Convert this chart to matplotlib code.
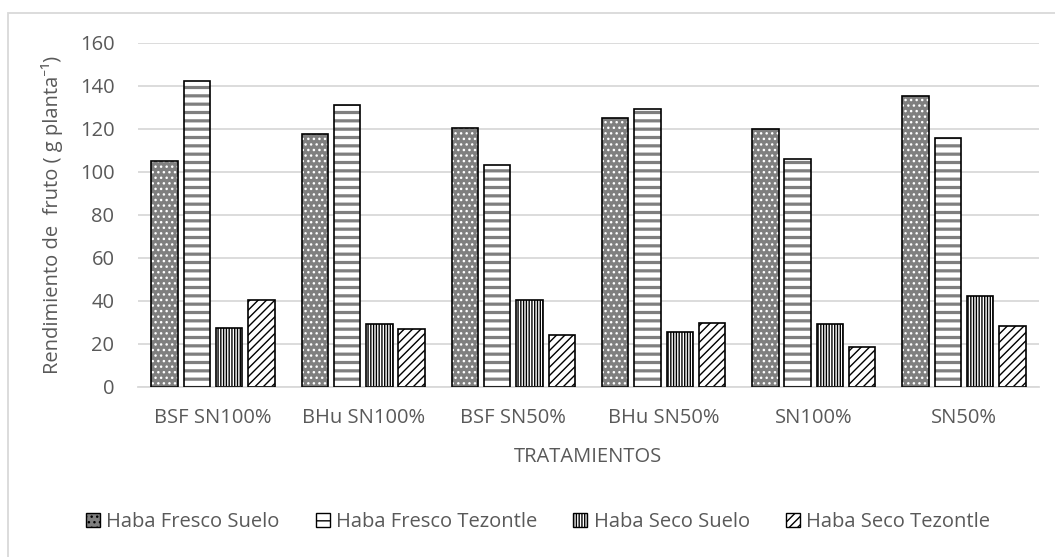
import matplotlib
matplotlib.use("Agg")
import matplotlib.pyplot as plt
from matplotlib.patches import Rectangle, Patch
import numpy as np

plt.rcParams['font.family'] = ['Open Sans', 'Noto Sans', 'DejaVu Sans']

categories = ["BSF SN100%", "BHu SN100%", "BSF SN50%", "BHu SN50%", "SN100%", "SN50%"]
series_names = ["Haba Fresco Suelo", "Haba Fresco Tezontle", "Haba Seco Suelo", "Haba Seco Tezontle"]
fresco_suelo = [104.8, 117.5, 120.5, 124.8, 119.9, 135.3]
fresco_tezontle = [142.3, 131.2, 103.1, 129.3, 106.0, 115.7]
seco_suelo = [27.2, 29.0, 40.5, 25.4, 29.2, 42.2]
seco_tezontle = [40.3, 26.7, 24.0, 29.6, 18.5, 28.4]
yticks = [0, 20, 40, 60, 80, 100, 120, 140, 160]

TEXT = "#595959"
GRID = "#d9d9d9"
FS = 14.5

# face colour, hatch pattern, hatch colour, hatch line width (pt)
styles = [
    ("#7f7f7f", "...", "white", 1.0),
    ("white", "--", "#7f7f7f", 2.3),
    ("white", "||||||", "black", 1.0),
    ("white", "////", "black", 1.0),
]

fig = plt.figure(figsize=(10.55, 5.57), dpi=100)
ax = fig.add_axes([138 / 1055, 1 - 386.7 / 557, (1039 - 138) / 1055, (386.7 - 42.7) / 557])

# chart frame
fig.patches.append(Rectangle((8 / 1055, -0.1), 1.2, 1.1 - 13 / 557,
                             transform=fig.transFigure, fill=False,
                             edgecolor=GRID, linewidth=1.3, zorder=0))

values = [fresco_suelo, fresco_tezontle, seco_suelo, seco_tezontle]
x = np.arange(len(categories)) + 0.5
pitch = 0.215
width = 0.176
handles = []
for k, (vals, (face, hatch, hcol, hlw)) in enumerate(zip(values, styles)):
    pos = x + (k - 1.5) * pitch
    with plt.rc_context({'hatch.linewidth': hlw}):
        bars = ax.bar(pos, vals, width, color=face, edgecolor=hcol,
                      hatch=hatch, linewidth=0, zorder=2)
        for b in bars:
            if hasattr(b, "set_hatch_linewidth"):
                b.set_hatch_linewidth(hlw)
    ax.bar(pos, vals, width, fill=False, edgecolor="black", linewidth=1.2, zorder=3)
    handles.append(Patch(facecolor=face, edgecolor="black", hatch=hatch, linewidth=1.0))

ax.set_xlim(0, len(categories))
ax.set_ylim(0, 160)
ax.set_yticks(yticks)
ax.set_xticks(x)
ax.set_xticklabels(categories)
ax.yaxis.grid(True, color=GRID, linewidth=1.3, zorder=0)
ax.set_axisbelow(True)
for s in ["top", "right", "left"]:
    ax.spines[s].set_visible(False)
ax.spines["bottom"].set_color(GRID)
ax.spines["bottom"].set_linewidth(1.3)
ax.tick_params(axis="both", length=0, labelsize=FS, labelcolor=TEXT)
ax.tick_params(axis="x", pad=15)
ax.tick_params(axis="y", pad=17)

ax.set_xlabel("TRATAMIENTOS", fontsize=FS, color=TEXT, labelpad=14)
ax.set_ylabel("Rendimiento de  fruto ( g planta\u207b\u00b9)", fontsize=FS, color=TEXT, labelpad=12)

leg = fig.legend(handles, series_names, loc="center", bbox_to_anchor=(538 / 1055, 1 - 522 / 557),
                 ncol=4, frameon=False, fontsize=FS, labelcolor=TEXT,
                 handlelength=0.7, handleheight=0.7, handletextpad=0.3, columnspacing=1.8)

fig.savefig("out.png", dpi=100)
